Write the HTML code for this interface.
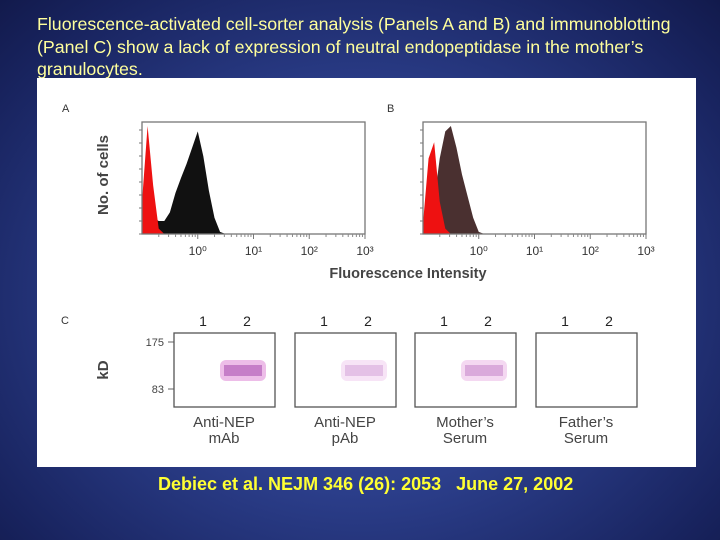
<!DOCTYPE html>
<html><head><meta charset="utf-8"><style>
html,body{margin:0;padding:0}
body{width:720px;height:540px;overflow:hidden;position:relative;font-family:"Liberation Sans",sans-serif;
background:radial-gradient(ellipse at 50% 55%,#3d55a8 0%,#2c3f8c 45%,#18235e 85%,#121a4c 100%)}
#title{position:absolute;left:37px;top:13px;width:660px;color:#ffff9c;font-size:17.8px;line-height:22.5px}
#cite{position:absolute;left:158px;top:474px;color:#ffff33;font-size:18px;font-weight:bold;white-space:pre}
svg{position:absolute;left:0;top:0}
</style></head><body>
<div id="title">Fluorescence-activated cell-sorter analysis (Panels A and B) and immunoblotting (Panel C) show a lack of expression of neutral endopeptidase in the mother’s granulocytes.</div>
<svg width="720" height="540" id="fig" font-family="Liberation Sans, sans-serif">
<rect x="37" y="78" width="659" height="389" fill="#fff"/>
<text x="62" y="112" font-size="11" fill="#333">A</text>
<text x="387" y="112" font-size="11" fill="#333">B</text>
<text x="0" y="0" font-size="15" font-weight="bold" fill="#444" transform="translate(108,175) rotate(-90)" text-anchor="middle">No. of cells</text>
<text x="408" y="278" font-size="14.5" font-weight="bold" fill="#444" text-anchor="middle">Fluorescence Intensity</text>
<g id="plots"></g>
<text x="61" y="324" font-size="11" fill="#333">C</text>
<text x="0" y="0" font-size="15" font-weight="bold" fill="#444" transform="translate(108,370) rotate(-90)" text-anchor="middle">kD</text>
<g id="blots"></g>
</svg>
<div id="cite">Debiec et al. NEJM 346 (26): 2053   June 27, 2002</div>
<script>
// log10 fluorescence bins
const bins=[-1,-0.9,-0.8,-0.7,-0.6,-0.5,-0.4,-0.3,-0.2,-0.1,0,0.1,0.2,0.3,0.4,0.5];
const aControl=[0.3,1.0,0.45,0.05,0,0,0,0,0,0,0,0,0,0,0,0];
const aStained=[0.05,0.1,0.15,0.12,0.12,0.2,0.38,0.52,0.65,0.8,0.95,0.72,0.4,0.15,0.02,0];
const bControl=[0.1,0.7,0.85,0.3,0.05,0,0,0,0,0,0,0,0,0,0,0];
const bStained=[0,0.1,0.3,0.7,0.95,1.0,0.8,0.55,0.35,0.15,0.02,0,0,0,0,0];
const xTicks=["10⁰","10¹","10²","10³"];
const lanes=["1","2"];
const blotNames=[["Anti-NEP","mAb"],["Anti-NEP","pAb"],["Mother’s","Serum"],["Father’s","Serum"]];
const bandIntensity=[0.85,0.35,0.5,0];
const kdTicks=[175,83];
const NS="http://www.w3.org/2000/svg";
function mk(t,a,p){const e=document.createElementNS(NS,t);for(const k in a)e.setAttribute(k,a[k]);p.appendChild(e);return e;}
const plots=document.getElementById('plots');
function hist(x0,name,ctrl,stain,stainCol){
  const top=122,bot=234,w=223;
  const sx=v=>x0+(v+1)/4*w, sy=v=>bot-v*(bot-top-4);
  const g=mk('g',{},plots);
  
  
  function area(arr,col,nm){
    let d='M'+sx(bins[0])+','+bot;
    arr.forEach((v,i)=>{d+=' L'+sx(bins[i])+','+sy(v);});
    d+=' L'+sx(bins[bins.length-1])+','+bot+'Z';
    const p=mk('path',{d:d,fill:col},g);
    
    
  }
  area(stain,stainCol,'stained-histogram');
  area(ctrl,'#ee1111','control-histogram');
  const b=mk('rect',{x:x0,y:top,width:w,height:bot-top,fill:'none',stroke:'#777','stroke-width':1.3},g);
  
  
  for(let i=0;i<9;i++)mk('line',{x1:x0-3,x2:x0,y1:bot-i*13,y2:bot-i*13,stroke:'#777'},g);
  xTicks.forEach((t,i)=>{
    const x=sx(i);
    for(let k=2;k<=9;k++){const xx=sx(i-1+Math.log10(k));mk('line',{x1:xx,x2:xx,y1:bot,y2:bot+3,stroke:'#888'},g);}
    mk('line',{x1:x,x2:x,y1:bot,y2:bot+5,stroke:'#777'},g);
    const tx=mk('text',{x:x,y:bot+21,'font-size':12,'text-anchor':'middle',fill:'#333'},g);
    tx.textContent=t;
    
    
  });
}
hist(142,'panel-a-histogram',aControl,aStained,'#111');
hist(423,'panel-b-histogram',bControl,bStained,'#4a3030');
const blots=document.getElementById('blots');
const bx=[174,295,415,536];
kdTicks.forEach((k,i)=>{
  const y=i?389:342;
  mk('line',{x1:168,x2:174,y1:y,y2:y,stroke:'#666'},blots);
  const t=mk('text',{x:164,y:y+4,'font-size':11,'text-anchor':'end',fill:'#444'},blots);
  t.textContent=k;
  
  
});
bx.forEach((x,i)=>{
  const g=mk('g',{},blots);
  
  
  const a=bandIntensity[i];
  if(a>0){
    mk('rect',{x:x+46,y:360,width:46,height:21,rx:6,fill:'#e090d8',opacity:a*0.7},g);
    mk('rect',{x:x+50,y:365,width:38,height:11,fill:'#a040a8',opacity:a*0.6},g);
  }
  mk('rect',{x:x,y:333,width:101,height:74,fill:'none',stroke:'#555','stroke-width':1.3},g);
  lanes.forEach((l,j)=>{
    const t=mk('text',{x:x+29+j*44,y:326,'font-size':14,'text-anchor':'middle',fill:'#222'},g);
    t.textContent=l;
    
    
  });
  blotNames[i].forEach((n,j)=>{
    const t=mk('text',{x:x+50,y:427+j*16,'font-size':15,'text-anchor':'middle',fill:'#444'},g);
    t.textContent=n;
    
    
  });
});
</script>
</body></html>
